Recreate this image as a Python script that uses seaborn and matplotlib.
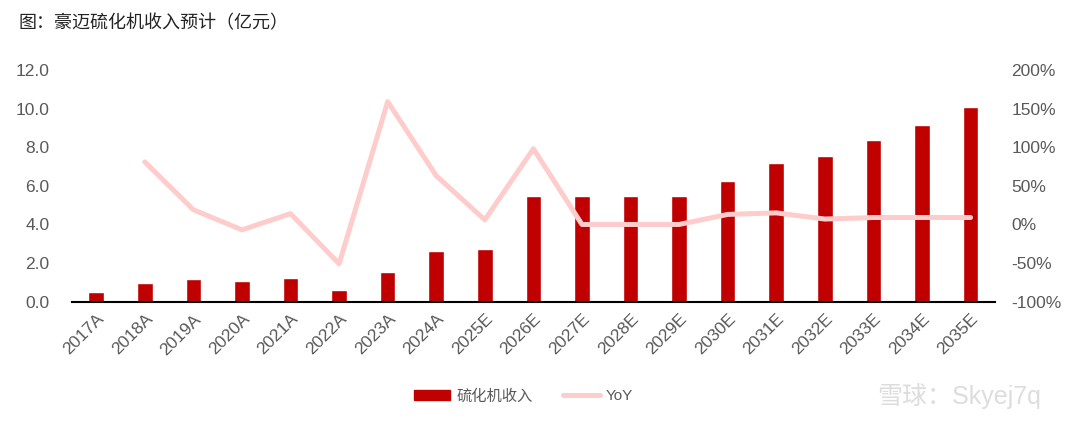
import pandas as pd
import matplotlib.pyplot as plt
import seaborn as sns
from matplotlib.patches import Patch
from matplotlib.lines import Line2D
from matplotlib.ticker import FuncFormatter

# 数据
anos = ["2017A", "2018A", "2019A", "2020A", "2021A", "2022A", "2023A", "2024A", "2025E",
        "2026E", "2027E", "2028E", "2029E", "2030E", "2031E", "2032E", "2033E", "2034E", "2035E"]
receita = [0.5, 0.95, 1.15, 1.05, 1.25, 0.6, 1.55, 2.6, 2.75,
           5.45, 5.45, 5.45, 5.45, 6.25, 7.2, 7.55, 8.35, 9.15, 10.1]
yoy = [None, 81, 19, -7, 14, -51, 159, 63, 6,
       98, 0, 0, 0, 13, 15, 7, 9, 9, 9]

df = pd.DataFrame({"ano": anos, "receita": receita, "yoy": yoy})

sns.set_style("white")
plt.rcParams["font.family"] = ["Liberation Sans", "Noto Sans CJK SC", "DejaVu Sans"]

cinza = "#595959"
fig = plt.figure(figsize=(10.79, 4.26), dpi=100)
ax = fig.add_axes([0.0667, 0.2918, 0.8553, 0.5439])

sns.barplot(data=df, x="ano", y="receita", color="#C00000", width=0.32,
            saturation=1, ax=ax)
ax.set_ylim(0, 12)
ax.set_yticks([0, 2, 4, 6, 8, 10, 12])
ax.yaxis.set_major_formatter(FuncFormatter(lambda v, p: f"{v:.1f}"))
ax.set_xlim(-0.5, len(anos) - 0.5)
ax.set_xlabel("")
ax.set_ylabel("")

ax2 = ax.twinx()
sns.lineplot(x=list(range(len(anos))), y=df["yoy"], color="#FFCCCC", linewidth=3.6,
             ax=ax2, solid_capstyle="round", solid_joinstyle="round")
ax2.set_ylim(-100, 200)
ax2.set_yticks(range(-100, 201, 50))
ax2.yaxis.set_major_formatter(FuncFormatter(lambda v, p: f"{v:.0f}%"))
ax2.set_ylabel("")

for a in (ax, ax2):
    for s in a.spines.values():
        s.set_visible(False)
    a.tick_params(length=0, labelsize=12.5, labelcolor=cinza, colors=cinza)
ax.spines["bottom"].set_visible(True)
ax.spines["bottom"].set_color("black")
ax.spines["bottom"].set_linewidth(1.5)
ax.tick_params(axis="y", pad=16)
ax.tick_params(axis="x", pad=7)
ax2.tick_params(axis="y", pad=12)
plt.setp(ax.get_xticklabels(), rotation=45, ha="right", rotation_mode="anchor")

fig.text(0.017, 0.945, "图：豪迈硫化机收入预计（亿元）", fontsize=13, color="#222222",
         va="center")

handles = [Patch(color="#C00000", label="硫化机收入"),
           Line2D([0], [0], color="#FFCCCC", linewidth=3.6, label="YoY")]
leg = fig.legend(handles=handles, loc="center", bbox_to_anchor=(0.485, 0.07), ncol=2,
                 frameon=False, fontsize=11, handlelength=2.4, handleheight=0.6,
                 columnspacing=2.0, handletextpad=0.4)
for t in leg.get_texts():
    t.set_color(cinza)

fig.text(0.965, 0.07, "雪球：Skyej7q", fontsize=18, color="#DDDDDD", ha="right",
         va="center")

plt.savefig("out.png", dpi=100)
